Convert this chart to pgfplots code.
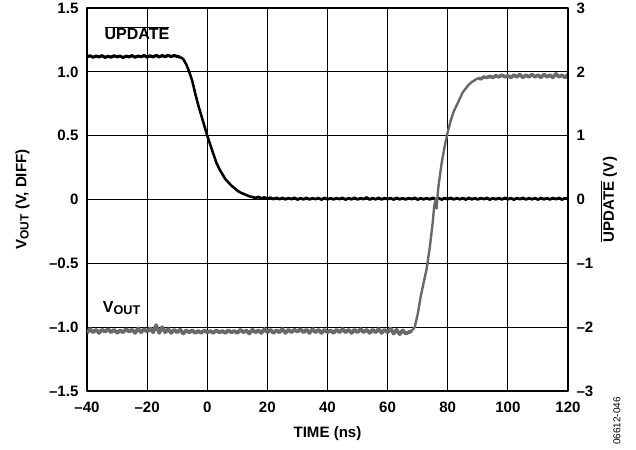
\documentclass[border=0pt]{standalone}
\usepackage{fontspec}
\setmainfont{Liberation Sans}
\usepackage{pgfplots}
\pgfplotsset{compat=1.18}
\definecolor{voutgray}{RGB}{105,105,105}
\newcommand{\sub}[1]{\raisebox{-1.6pt}{\fontsize{9}{10}\selectfont #1}}
\begin{document}
\begin{tikzpicture}
\path[use as bounding box] (-65.25pt,-44.25pt) rectangle (411.75pt,293.25pt);
\begin{axis}[
  name=a,
  at={(0,0)}, anchor=south west,
  scale only axis, width=360.75pt, height=287.25pt,
  xmin=-40, xmax=120, ymin=-1.5, ymax=1.5,
  xtick={-40,-20,...,120},
  xticklabels={\textendash40,\textendash20,0,20,40,60,80,100,120},
  ytick={-1.5,-1,-0.5,0,0.5,1,1.5},
  yticklabels={\textendash1.5,\textendash1.0,\textendash0.5,0,0.5,1.0,1.5},
  ticklabel style={font=\fontsize{11.3}{13}\selectfont\bfseries},
  xticklabel style={yshift=-4.4pt},
  yticklabel style={xshift=-2.9pt},
  major tick length=0pt,
  grid=major, major grid style={black, line width=0.8pt},
  axis line style={line width=1.6pt},
  xlabel={TIME (ns)},
  xlabel style={font=\fontsize{11.3}{13}\selectfont\bfseries, at={(axis description cs:0.5,-0.112)}, anchor=center},
  ylabel={V\sub{OUT} (V, DIFF)},
  ylabel style={font=\fontsize{11.3}{13}\selectfont\bfseries, at={(axis description cs:-0.134,0.5)}, anchor=center},
  line join=round,
]
% UPDATE (left-axis units): high level
\addplot[black, line width=2.3pt] coordinates {
(-40,1.118) (-39,1.126) (-38,1.114) (-37,1.124) (-36,1.116) (-35,1.127) (-34,1.113) (-33,1.122)
(-32,1.115) (-31,1.126) (-30,1.117) (-29,1.124) (-28,1.112) (-27,1.123) (-26,1.117) (-25,1.127)
(-24,1.114) (-23,1.124) (-22,1.118) (-21,1.128) (-20,1.115) (-19,1.126) (-18,1.116) (-17,1.129)
(-16,1.117) (-15,1.127) (-14,1.118) (-13,1.13) (-12,1.119) (-11,1.128) (-10,1.12) (-9,1.116)
};
% UPDATE: falling edge
\addplot[black, line width=1.9pt] coordinates {
(-9,1.116) (-8,1.10) (-7,1.06) (-6,1.00) (-5,0.93) (-4,0.83) (-3,0.74) (-2,0.66) (-1,0.58) (0,0.50)
(1,0.43) (2,0.36) (3,0.29) (4,0.24) (5,0.20) (6,0.16) (7,0.135) (8,0.11) (9,0.09) (10,0.07)
(11,0.055) (12,0.045) (13,0.035) (14,0.025) (15,0.02)
};
% UPDATE: low level
\addplot[black, line width=2.1pt] coordinates {
(15,0.02) (16,0.012) (17,0.02) (18,0.008) (19,0.016)
(20,0.006) (21,0.014) (22,0.004) (23,0.013) (24,0.003) (25,0.012) (26,0.002) (27,0.011) (28,0.003)
(29,0.013) (30,0.0) (31,0.01) (32,0.002) (33,0.012) (34,0.001) (35,0.01) (36,0.003) (37,0.011)
(38,0.0) (39,0.012) (40,0.002) (41,0.01) (42,0.001) (43,0.011) (44,0.003) (45,0.012) (46,0.0)
(47,0.01) (48,0.002) (49,0.013) (50,0.001) (51,0.01) (52,0.003) (53,0.016) (54,0.0) (55,0.011)
(56,0.002) (57,0.012) (58,0.001) (59,0.01) (60,0.003) (61,0.011) (62,0.0) (63,0.012) (64,0.002)
(65,0.01) (66,0.001) (67,0.011) (68,0.003) (69,0.012) (70,0.0) (71,0.01) (72,0.002) (73,0.011)
(74,0.001) (75,0.012) (76,0.002) (77,0.01) (78,0.0) (79,0.011) (80,0.003) (81,0.012) (82,0.001)
(83,0.01) (84,0.002) (85,0.011) (86,0.0) (87,0.012) (88,0.002) (89,0.01) (90,0.001) (91,0.011)
(92,0.003) (93,0.012) (94,0.0) (95,0.01) (96,0.002) (97,0.011) (98,0.001) (99,0.012) (100,0.002)
(101,0.01) (102,0.0) (103,0.011) (104,0.003) (105,0.012) (106,0.001) (107,0.01) (108,0.002)
(109,0.011) (110,0.0) (111,0.012) (112,0.002) (113,0.01) (114,0.001) (115,0.011) (116,0.003)
(117,0.012) (118,0.0) (119,0.01) (120,0.004)
};
% VOUT: low level
\addplot[voutgray, line width=2.8pt] coordinates {
(-40,-1.045) (-39,-1.015) (-38,-1.04) (-37,-1.02) (-36,-1.045) (-35,-1.02) (-34,-1.035) (-33,-1.015)
(-32,-1.04) (-31,-1.02) (-30,-1.045) (-29,-1.025) (-28,-1.04) (-27,-1.015) (-26,-1.035) (-25,-1.02)
(-24,-1.045) (-23,-1.01) (-22,-1.04) (-21,-1.015) (-20,-1.035) (-19,-1.01) (-18,-1.04) (-17,-0.985)
(-16,-1.045) (-15,-1.0) (-14,-1.04) (-13,-1.015) (-12,-1.045) (-11,-1.02) (-10,-1.04) (-9,-1.02)
(-8,-1.05) (-7,-1.025) (-6,-1.04) (-5,-1.025) (-4,-1.045) (-3,-1.03) (-2,-1.045) (-1,-1.025)
(0,-1.04) (1,-1.03) (2,-1.045) (3,-1.025) (4,-1.04) (5,-1.03) (6,-1.045) (7,-1.025) (8,-1.04)
(9,-1.03) (10,-1.045) (11,-1.02) (12,-1.04) (13,-1.025) (14,-1.05) (15,-1.02) (16,-1.04) (17,-1.025)
(18,-1.045) (19,-1.015) (20,-1.04) (21,-1.02) (22,-1.045) (23,-1.025) (24,-1.04) (25,-1.015)
(26,-1.045) (27,-1.02) (28,-1.04) (29,-1.02) (30,-1.035) (31,-1.015) (32,-1.04) (33,-1.02)
(34,-1.045) (35,-1.015) (36,-1.04) (37,-1.02) (38,-1.045) (39,-1.02) (40,-1.04) (41,-1.025)
(42,-1.045) (43,-1.02) (44,-1.04) (45,-1.015) (46,-1.04) (47,-1.02) (48,-1.045) (49,-1.02)
(50,-1.04) (51,-1.015) (52,-1.04) (53,-1.02) (54,-1.045) (55,-1.02) (56,-1.04) (57,-1.015)
(58,-1.045) (59,-1.02) (60,-1.04) (61,-1.01) (62,-1.05) (63,-1.02) (64,-1.055) (65,-1.025)
(66,-1.05) (67,-1.04) (68,-1.03)
};
% VOUT: rising edge
\addplot[voutgray, line width=1.8pt] coordinates {
(68,-1.03) (69,-1.00) (70,-0.90) (71,-0.76) (72,-0.65) (73,-0.54)
(74,-0.38) (75,-0.18) (75.5,-0.05) (76,0.0) (76.3,-0.07) (76.8,0.08) (77,0.12) (78,0.29)
(79,0.42) (80,0.53) (81,0.62) (82,0.69) (83,0.74) (84,0.79) (85,0.84) (86,0.87) (87,0.90)
(88,0.92) (89,0.935) (90,0.95)
};
% VOUT: high level
\addplot[voutgray, line width=2.6pt] coordinates {
(90,0.95) (91,0.945) (92,0.96) (93,0.955) (94,0.965) (95,0.955) (96,0.97)
(97,0.96) (98,0.975) (99,0.96) (100,0.97) (101,0.955) (102,0.975) (103,0.96) (104,0.98)
(105,0.955) (106,0.975) (107,0.96) (108,0.98) (109,0.96) (110,0.975) (111,0.955) (112,0.98)
(113,0.96) (114,0.975) (115,0.955) (116,0.985) (117,0.96) (118,0.975) (119,0.955) (120,0.98)
};
\node[anchor=base west, font=\fontsize{12}{14}\selectfont\bfseries] at (axis cs:-35.7,1.25) {$\overline{\mbox{UPDATE}}$};
\node[anchor=base west, font=\fontsize{12}{14}\selectfont\bfseries] at (axis cs:-36.3,-0.886) {V\raisebox{-1.7pt}{\fontsize{9.5}{10}\selectfont OUT}};
\end{axis}
\begin{axis}[
  at={(0,0)}, anchor=south west,
  scale only axis, width=360.75pt, height=287.25pt,
  xmin=-40, xmax=120, ymin=-3, ymax=3,
  axis x line=none, axis y line*=right,
  ytick={-3,-2,-1,0,1,2,3},
  yticklabels={\textendash3,\textendash2,\textendash1,0,1,2,3},
  ticklabel style={font=\fontsize{11.3}{13}\selectfont\bfseries},
  yticklabel style={xshift=2.9pt},
  major tick length=0pt,
  axis line style={line width=1.6pt},
  ylabel={$\overline{\mbox{UPDATE}}$ (V)},
  ylabel style={font=\fontsize{11.3}{13}\selectfont\bfseries, at={(axis description cs:1.085,0.5)}, anchor=center},
]
\end{axis}
\node[rotate=90, font=\fontsize{7.5}{8}\selectfont] at ([xshift=36.75pt,yshift=-22.5pt]a.south east) {06612-046};
\end{tikzpicture}
\end{document}
